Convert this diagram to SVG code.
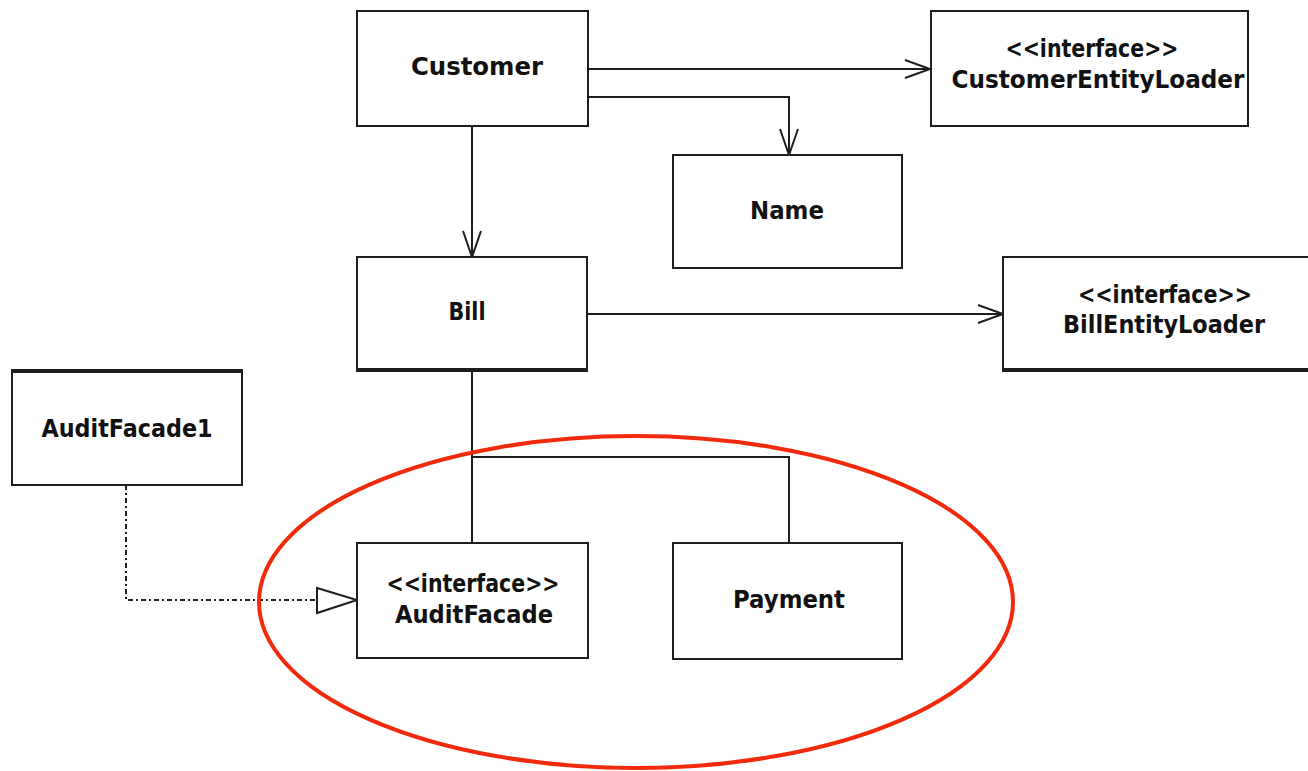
<svg xmlns="http://www.w3.org/2000/svg" width="1308" height="771" viewBox="0 0 1308 771">
  <style>
    .box { fill: #ffffff; stroke: #1e1e1e; stroke-width: 2; }
    .edge { stroke: #1e1e1e; stroke-width: 4; }
    .lbl { font-family: "DejaVu Sans", Verdana, sans-serif; font-weight: bold; font-size: 24px; fill: #111111; text-anchor: middle; }
    .conn { fill: none; stroke: #1e1e1e; stroke-width: 2; }
    .dash { fill: none; stroke: #1e1e1e; stroke-width: 2; stroke-dasharray: 5 3 2 3; }
    .head { fill: none; stroke: #1e1e1e; stroke-width: 2; }
    .tri { fill: #ffffff; stroke: #1e1e1e; stroke-width: 2; }
  </style>

  <!-- connectors -->
  <g id="connectors">
    <!-- Customer -> CustomerEntityLoader -->
    <path class="conn" d="M588 69 H930"/>
    <path class="head" d="M905 60 L930 69 L905 78"/>
    <!-- Customer -> Name -->
    <path class="conn" d="M588 97 H789 V155"/>
    <path class="head" d="M780 129 L789 155 L798 129"/>
    <!-- Customer -> Bill -->
    <path class="conn" d="M472 126 V257"/>
    <path class="head" d="M463 231 L472 257 L481 231"/>
    <!-- Bill -> BillEntityLoader -->
    <path class="conn" d="M587 314 H1003"/>
    <path class="head" d="M978 305 L1003 314 L978 323"/>
    <!-- Bill -> AuditFacade / Payment -->
    <path class="conn" d="M472 370 V543"/>
    <path class="conn" d="M472 457 H789 V543"/>
    <!-- AuditFacade1 realizes AuditFacade -->
    <path class="dash" d="M126 485 V600 H317"/>
    <polygon class="tri" points="317,588 357,600 317,613"/>
  </g>

  <g id="customer">
    <rect class="box" x="357" y="11" width="231" height="115"/>
    <text class="lbl" x="477" y="75" textLength="132" lengthAdjust="spacingAndGlyphs">Customer</text>
  </g>

  <g id="customer-entity-loader">
    <rect class="box" x="931" y="11" width="317" height="115"/>
    <text class="lbl" x="1092" y="57" textLength="173" lengthAdjust="spacingAndGlyphs">&lt;&lt;interface&gt;&gt;</text>
    <text class="lbl" x="1098" y="88" textLength="293" lengthAdjust="spacingAndGlyphs">CustomerEntityLoader</text>
  </g>

  <g id="name">
    <rect class="box" x="673" y="155" width="229" height="113"/>
    <text class="lbl" x="787" y="219" textLength="74" lengthAdjust="spacingAndGlyphs">Name</text>
  </g>

  <g id="bill">
    <rect class="box" x="357" y="257" width="230" height="113"/>
    <line class="edge" x1="356" y1="370" x2="588" y2="370"/>
    <text class="lbl" x="467" y="320" textLength="37" lengthAdjust="spacingAndGlyphs">Bill</text>
  </g>

  <g id="bill-entity-loader">
    <rect class="box" x="1003" y="257" width="320" height="113"/>
    <line class="edge" x1="1002" y1="370" x2="1308" y2="370"/>
    <text class="lbl" x="1165" y="303" textLength="174" lengthAdjust="spacingAndGlyphs">&lt;&lt;interface&gt;&gt;</text>
    <text class="lbl" x="1164" y="333" textLength="202" lengthAdjust="spacingAndGlyphs">BillEntityLoader</text>
  </g>

  <g id="audit-facade1">
    <rect class="box" x="12" y="371" width="230" height="114"/>
    <line class="edge" x1="11" y1="371" x2="243" y2="371"/>
    <text class="lbl" x="127" y="437" textLength="171" lengthAdjust="spacingAndGlyphs">AuditFacade1</text>
  </g>

  <g id="audit-facade">
    <rect class="box" x="357" y="543" width="231" height="115"/>
    <text class="lbl" x="473" y="592" textLength="173" lengthAdjust="spacingAndGlyphs">&lt;&lt;interface&gt;&gt;</text>
    <text class="lbl" x="474" y="623" textLength="158" lengthAdjust="spacingAndGlyphs">AuditFacade</text>
  </g>

  <g id="payment">
    <rect class="box" x="673" y="543" width="229" height="116"/>
    <text class="lbl" x="789" y="608" textLength="112" lengthAdjust="spacingAndGlyphs">Payment</text>
  </g>

  <!-- highlight ring around the Bill subtypes -->
  <ellipse id="highlight" cx="636" cy="602" rx="377" ry="166" fill="none" stroke="#f22a0c" stroke-width="4"/>
</svg>
